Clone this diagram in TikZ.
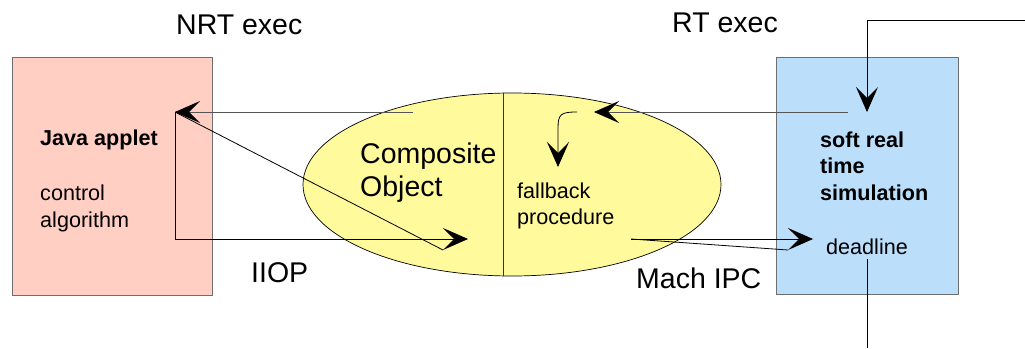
\documentclass[tikz,border=0pt]{standalone}
\usepackage{fontspec}
\setmainfont{Liberation Sans}
\usetikzlibrary{arrows.meta,shapes.geometric}
\definecolor{boxpink}{RGB}{255,207,196}
\definecolor{boxblue}{RGB}{187,222,251}
\definecolor{ellyellow}{RGB}{255,250,155}
\definecolor{edgegray}{RGB}{110,110,110}
\definecolor{linegray}{RGB}{85,85,85}
\tikzset{
  procbox/.style={draw=edgegray, line width=0.9pt, inner sep=0pt},
  small/.style={font=\fontsize{21.6}{26}\selectfont, anchor=base west, inner sep=0pt},
  smallbold/.style={font=\fontsize{21.6}{26}\selectfont\bfseries, anchor=base west, inner sep=0pt},
  big/.style={font=\fontsize{28.5}{34}\selectfont, anchor=base west, inner sep=0pt},
  conn/.style={draw=black, line width=0.8pt},
  conngray/.style={draw=linegray, line width=0.9pt},
  tip/.style={-{Stealth[length=25pt,width=22pt,inset=11pt,color=black]}},
}
\begin{document}
\begin{tikzpicture}[x=1pt,y=-1pt]
\useasboundingbox (0,0) rectangle (1025,348);
% boxes
\node[procbox, fill=boxpink, minimum width=200pt, minimum height=238pt] (nrt) at (112,176) {};
\node[procbox, fill=boxblue, minimum width=182pt, minimum height=237pt] (rt) at (867,175.5) {};
% ellipse
\node[draw=black, line width=0.7pt, fill=ellyellow, ellipse, inner sep=0pt, minimum width=418pt, minimum height=183pt] (comp) at (512,184.5) {};
\coordinate (divtop) at (503,93.2);
\coordinate (divbot) at (503,275.8);
\draw[draw=black!80, line width=0.8pt] (divtop) -- (divbot);
% labels
\node[big] (nrtlbl) at (176,34) {NRT exec};
\node[big] (rtlbl) at (672,32) {RT exec};
\node[smallbold] (java) at (40,145) {Java applet};
\node[small] (ctrl) at (40,200) {control};
\node[small] (algo) at (40,227) {algorithm};
\node[big] (compA) at (360,163) {Composite};
\node[big] (compB) at (360,196) {Object};
\node[small] (fb1) at (517,198) {fallback};
\node[small] (fb2) at (517,224) {procedure};
\node[smallbold] (srt1) at (820,147) {soft real};
\node[smallbold] (srt2) at (820,173) {time};
\node[smallbold] (srt3) at (820,200) {simulation};
\node[small] (dl) at (826,254) {deadline};
\node[big] (iiop) at (251,282) {IIOP};
\node[big] (mach) at (636,288) {Mach IPC};
% connector points
\coordinate (jaTip) at (175,112);
\coordinate (jaSrc) at (413,112);
\coordinate (jaCorner) at (175,239);
\coordinate (iiopTip) at (468,239);
\coordinate (iiopDiag) at (443,250);
\coordinate (inEdge) at (1025,20);
\coordinate (inCorner) at (867,20);
\coordinate (inTip) at (867,112);
\coordinate (fbSrc) at (848,112);
\coordinate (fbTip) at (594,112);
\coordinate (curStart) at (577,112);
\coordinate (curTip) at (558,167);
\coordinate (ipcSrc) at (631,239);
\coordinate (ipcTip) at (813,239);
\coordinate (ipcDiag) at (788,250);
\coordinate (dlTop) at (867,259);
\coordinate (dlBot) at (867,348);
% connectors
\draw[conngray, tip] (jaSrc) -- (jaTip);
\draw[conn, tip] (jaTip) -- (jaCorner) -- (iiopTip);
\draw[conn] (jaTip) -- (iiopDiag);
\draw[conn, tip] (inEdge) -- (inCorner) -- (inTip);
\draw[conngray, tip] (fbSrc) -- (fbTip);
\draw[conn, tip] (curStart) .. controls (561,112) and (558,114) .. (558,128) -- (curTip);
\draw[conn, tip] (ipcSrc) -- (ipcTip);
\draw[conn] (ipcSrc) -- (ipcDiag);
\draw[conn] (dlTop) -- (dlBot);
\end{tikzpicture}
\end{document}
